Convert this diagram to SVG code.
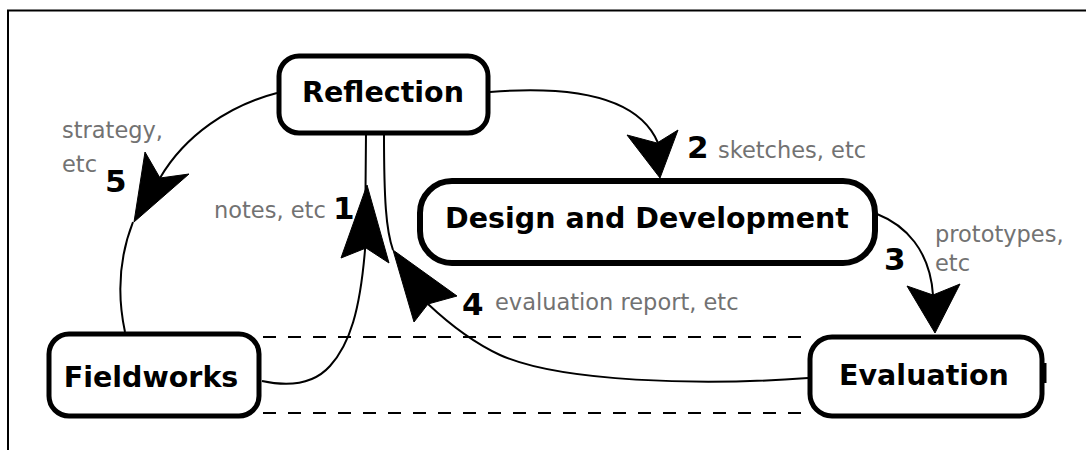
<svg xmlns="http://www.w3.org/2000/svg" width="1086" height="450" viewBox="0 0 1086 450">
<style>
.node{fill:#fff;stroke:#000;stroke-width:5}
.lbl{font-family:"DejaVu Sans",Verdana,sans-serif;font-weight:bold;font-size:28.5px;fill:#000;text-anchor:middle}
.num{font-family:"DejaVu Sans",Verdana,sans-serif;font-weight:bold;font-size:31px;fill:#000}
.note{font-family:"DejaVu Sans",Verdana,sans-serif;font-size:22.5px;fill:#727272}
.con{fill:none;stroke:#000;stroke-width:2}
.dash{fill:none;stroke:#000;stroke-width:2;stroke-dasharray:13 12}
.head{fill:#000;stroke:#000;stroke-width:1;stroke-linejoin:miter}
.frame{fill:none;stroke:#000;stroke-width:2}
</style>
<rect width="1086" height="450" fill="#fff"/>
<path class="frame" d="M8 450 V10.5 H1086"/>
<g id="guides">
<line class="dash" x1="263" y1="337" x2="808" y2="337"/>
<line class="dash" x1="263" y1="413" x2="808" y2="413"/>
</g>
<g id="connectors">
<path class="con" d="M262 381 C285 386 312 386 330 366 C350 344 360 310 365 250 L366 133"/>
<path class="con" d="M490 92 C580 85 640 100 658 143"/>
<path class="con" d="M877 214 C905 225 930 250 933 295"/>
<path class="con" d="M808 378 C700 386 560 382 500 355 C470 341 445 320 428 304"/>
<path class="con" d="M393 250 C386 230 384 200 384 133"/>
<path class="con" d="M277 93 C230 105 185 135 160 178"/>
<path class="con" d="M133 222 C122 250 115 285 125 332"/>
<polygon class="head" points="367,185 389,263 366,248 341,258"/>
<polygon class="head" points="660,178 627,135 657,143 678,130"/>
<polygon class="head" points="935,333 907,286 933,295 960,284"/>
<polygon class="head" points="393,250 457,296 428,304 414,322"/>
<polygon class="head" points="134,222 145,152 160,178 189,174"/>
</g>
<g id="reflection">
<rect class="node" x="279" y="56" width="209" height="77" rx="20"/>
<text class="lbl" x="383" y="102">Reflection</text>
</g>
<g id="design">
<rect class="node" x="420" y="181" width="455" height="82" rx="32" style="stroke-width:6"/>
<text class="lbl" x="647" y="228">Design and Development</text>
</g>
<g id="evaluation">
<rect class="node" x="810" y="337" width="232" height="79" rx="22"/>
<line x1="1045" y1="363" x2="1045" y2="383" stroke="#000" stroke-width="3"/>
<text class="lbl" x="924" y="385">Evaluation</text>
</g>
<g id="fieldworks">
<rect class="node" x="49" y="334" width="210" height="82" rx="20"/>
<text class="lbl" x="151" y="387">Fieldworks</text>
</g>
<g id="labels">
<text class="note" x="62" y="138">strategy,</text>
<text class="note" x="62" y="172">etc</text>
<text class="num" x="105" y="192">5</text>
<text class="note" x="214" y="218">notes, etc</text>
<text class="num" x="333" y="219">1</text>
<text class="num" x="687" y="158">2</text>
<text class="note" x="718" y="158">sketches, etc</text>
<text class="num" x="884" y="270">3</text>
<text class="note" x="935" y="242">prototypes,</text>
<text class="note" x="935" y="271">etc</text>
<text class="num" x="462" y="315">4</text>
<text class="note" x="495" y="310">evaluation report, etc</text>
</g>
</svg>
